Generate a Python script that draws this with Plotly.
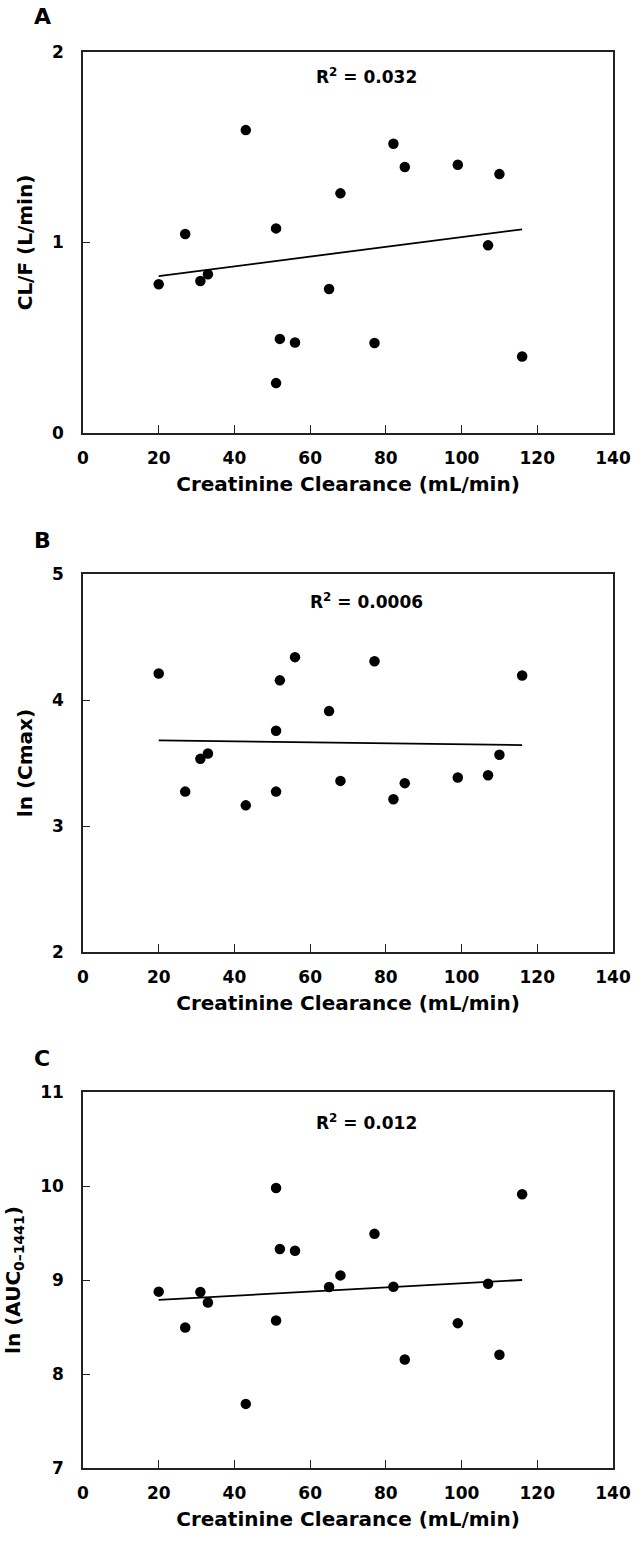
import plotly.graph_objects as go

# Creatinine clearance (mL/min), one value per subject
crcl = [20, 27, 31, 33, 43, 51, 51, 52, 56, 65, 68, 77, 82, 85, 99, 107, 110, 116]

# Panel A: CL/F (L/min)
clf = [0.781, 1.045, 0.798, 0.833, 1.590, 1.074, 0.262, 0.494, 0.475, 0.756,
       1.258, 0.472, 1.518, 1.396, 1.408, 0.985, 1.359, 0.402]
# Panel B: ln(Cmax)
ln_cmax = [4.21, 3.273, 3.533, 3.576, 3.164, 3.756, 3.273, 4.156, 4.340, 3.912,
           3.358, 4.308, 3.212, 3.340, 3.385, 3.403, 3.565, 4.194]
# Panel C: ln(AUC0-1441)
ln_auc = [8.876, 8.495, 8.873, 8.760, 7.682, 9.979, 8.569, 9.329, 9.311, 8.926,
          9.049, 9.491, 8.929, 8.155, 8.541, 8.961, 8.205, 9.912]

# Regression lines (end points)
fit_x = [20, 116]
fit_a = [0.824, 1.069]
fit_b = [3.679, 3.642]
fit_c = [8.788, 9.000]

r2_labels = ["R<sup>2</sup> = 0.032", "R<sup>2</sup> = 0.0006", "R<sup>2</sup> = 0.012"]
panel_letters = ["A", "B", "C"]
y_titles = ["CL/F (L/min)", "ln (Cmax)", "ln (AUC<sub>0\u20131441</sub>)"]
y_ranges = [[0, 2], [2, 5], [7, 11]]
x_title = "Creatinine Clearance (mL/min)"
x_range = [0, 140]

FONT = "DejaVu Sans"
W, H = 643, 1541
ML, MR, MT, MB = 80, 20, 52, 73
plot_h = H - MT - MB

def py(px):
    return (H - MB - px) / plot_h

domains = [[py(433), py(52)], [py(952), py(574)], [py(1468), py(1092)]]
letter_y = [py(16), py(540), py(1058)]
r2_y = [0.937, 0.929, 0.921]

fig = go.Figure()
series = [clf, ln_cmax, ln_auc]
fits = [fit_a, fit_b, fit_c]
for i in range(3):
    xa = "x" if i == 0 else f"x{i+1}"
    ya = "y" if i == 0 else f"y{i+1}"
    fig.add_trace(go.Scatter(x=crcl, y=series[i], mode="markers", xaxis=xa, yaxis=ya,
                             marker=dict(color="black", size=10.5), showlegend=False))
    fig.add_trace(go.Scatter(x=fit_x, y=fits[i], mode="lines", xaxis=xa, yaxis=ya,
                             line=dict(color="black", width=1.8), showlegend=False))

layout = dict(
    width=W, height=H,
    margin=dict(l=ML, r=MR, t=MT, b=MB),
    paper_bgcolor="white", plot_bgcolor="white",
    font=dict(family=FONT, color="black"),
    showlegend=False,
)
annotations = []
for i in range(3):
    xk = "xaxis" if i == 0 else f"xaxis{i+1}"
    yk = "yaxis" if i == 0 else f"yaxis{i+1}"
    anchor_y = "y" if i == 0 else f"y{i+1}"
    anchor_x = "x" if i == 0 else f"x{i+1}"
    layout[xk] = dict(
        domain=[0, 1], anchor=anchor_y, range=x_range, dtick=20, tick0=0,
        showgrid=False, zeroline=False, showline=True, linecolor="#222", linewidth=1.6,
        mirror=True, ticks="inside", ticklen=8, tickcolor="#222", tickwidth=1,
        tickfont=dict(family=FONT, size=17, weight="bold"), ticklabelstandoff=9,
        title=dict(text=x_title, font=dict(family=FONT, size=20, weight="bold"), standoff=10),
    )
    layout[yk] = dict(
        domain=domains[i], anchor=anchor_x, range=y_ranges[i], dtick=1,
        showgrid=False, zeroline=False, showline=True, linecolor="#222", linewidth=1.6,
        mirror=True, ticks="inside", ticklen=7, tickcolor="#222", tickwidth=1,
        tickfont=dict(family=FONT, size=17, weight="bold"), ticklabelstandoff=14,
        title=dict(text=y_titles[i], font=dict(family=FONT, size=20, weight="bold"), standoff=14),
    )
    annotations.append(dict(
        text=r2_labels[i], xref=anchor_x, yref=anchor_y + " domain",
        x=75, y=r2_y[i], xanchor="center", yanchor="middle", showarrow=False,
        font=dict(family=FONT, size=17, weight="bold"),
    ))
    annotations.append(dict(
        text=panel_letters[i], xref="paper", yref="paper",
        x=-0.077, y=letter_y[i], xanchor="center", yanchor="middle", showarrow=False,
        font=dict(family=FONT, size=22, weight="bold"),
    ))
layout["annotations"] = annotations
fig.update_layout(**layout)
fig.write_html("out.html")
